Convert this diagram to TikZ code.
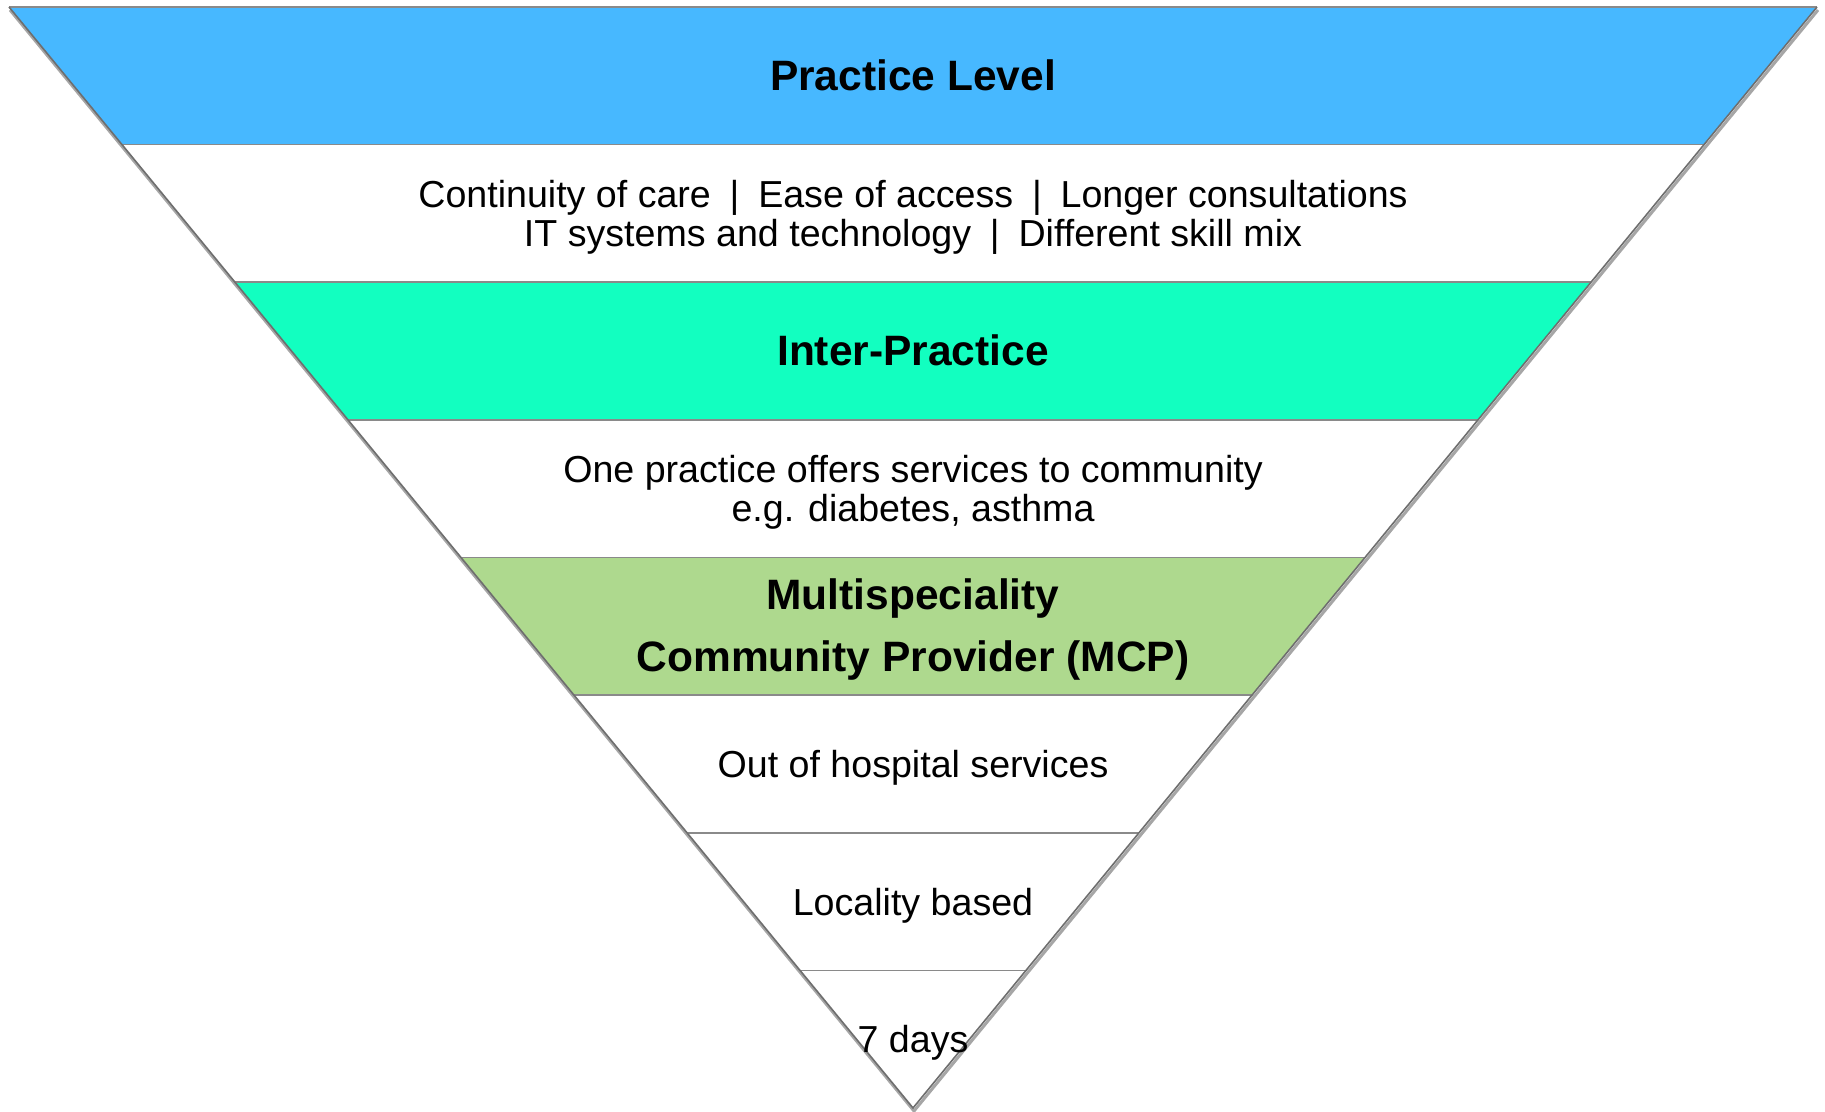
\documentclass[tikz,border=0pt]{standalone}
\usepackage{fontspec}
\setmainfont{Liberation Sans}
\definecolor{bandblue}{HTML}{47B8FF}
\definecolor{bandteal}{HTML}{12FFC0}
\definecolor{bandgreen}{HTML}{AED98E}
\definecolor{edgegray}{HTML}{6E6E6E}
\definecolor{sepgray}{HTML}{8A8A8A}
\begin{document}
\begin{tikzpicture}[x=1pt,y=-1pt,
  sepline/.style={draw=sepgray,line width=1.6pt},
  edgeline/.style={draw=edgegray,line width=1.6pt,line join=miter},
  shadowline/.style={draw=black,opacity=0.35,line width=3pt},
  titletext/.style={font=\fontsize{42.5}{62}\selectfont\bfseries,align=center,inner sep=0pt},
  bodytext/.style={font=\fontsize{37.6}{39}\selectfont,align=center,inner sep=0pt}]
\useasboundingbox (0,0) rectangle (1825,1111);
\coordinate (L0) at (9,7);        \coordinate (R0) at (1817,7);
\coordinate (L1) at (122,144.625); \coordinate (R1) at (1704,144.625);
\coordinate (L2) at (235,282.25);  \coordinate (R2) at (1591,282.25);
\coordinate (L3) at (348,419.875); \coordinate (R3) at (1478,419.875);
\coordinate (L4) at (461,557.5);   \coordinate (R4) at (1365,557.5);
\coordinate (L5) at (574,695.125); \coordinate (R5) at (1252,695.125);
\coordinate (L6) at (687,832.75);  \coordinate (R6) at (1139,832.75);
\coordinate (L7) at (800,970.375); \coordinate (R7) at (1026,970.375);
\coordinate (A) at (913,1108);
% shadow
\draw[shadowline] ([shift={(1,3)}]L0) -- ([shift={(1,3)}]A) -- ([shift={(1,3)}]R0);
% white body
\fill[white] (L0) -- (R0) -- (A) -- cycle;
% coloured bands
\fill[bandblue] (L0) -- (R0) -- (R1) -- (L1) -- cycle;
\fill[bandteal] (L2) -- (R2) -- (R3) -- (L3) -- cycle;
\fill[bandgreen] (L4) -- (R4) -- (R5) -- (L5) -- cycle;
% separators
\draw[sepline] (L0) -- (R0);
\draw[sepline] (L1) -- (R1);
\draw[sepline] (L2) -- (R2);
\draw[sepline] (L3) -- (R3);
\draw[sepline] (L4) -- (R4);
\draw[sepline] (L5) -- (R5);
\draw[sepline] (L6) -- (R6);
\draw[sepline] (L7) -- (R7);
% outline edges
\draw[edgeline] (L0) -- (A) -- (R0);
% texts
\node[titletext] (t1) at (913,75) {Practice Level};
\node[bodytext] (t2) at (913,217) {Continuity of care\enspace|\enspace Ease of access\enspace|\enspace Longer consultations\\IT systems and technology\enspace|\enspace Different skill mix};
\node[titletext] (t3) at (913,350) {Inter-Practice};
\node[bodytext] (t4) at (913,492.5) {One practice offers services to community\\e.g. diabetes, asthma};
\node[titletext] (t5) at (913,629.8) {Multispeciality\\Community Provider (MCP)};
\node[bodytext] (t6) at (913,768) {Out of hospital services};
\node[bodytext] (t7) at (913,905.3) {Locality based};
\node[bodytext] (t8) at (913,1042.8) {7 days};
\end{tikzpicture}
\end{document}
